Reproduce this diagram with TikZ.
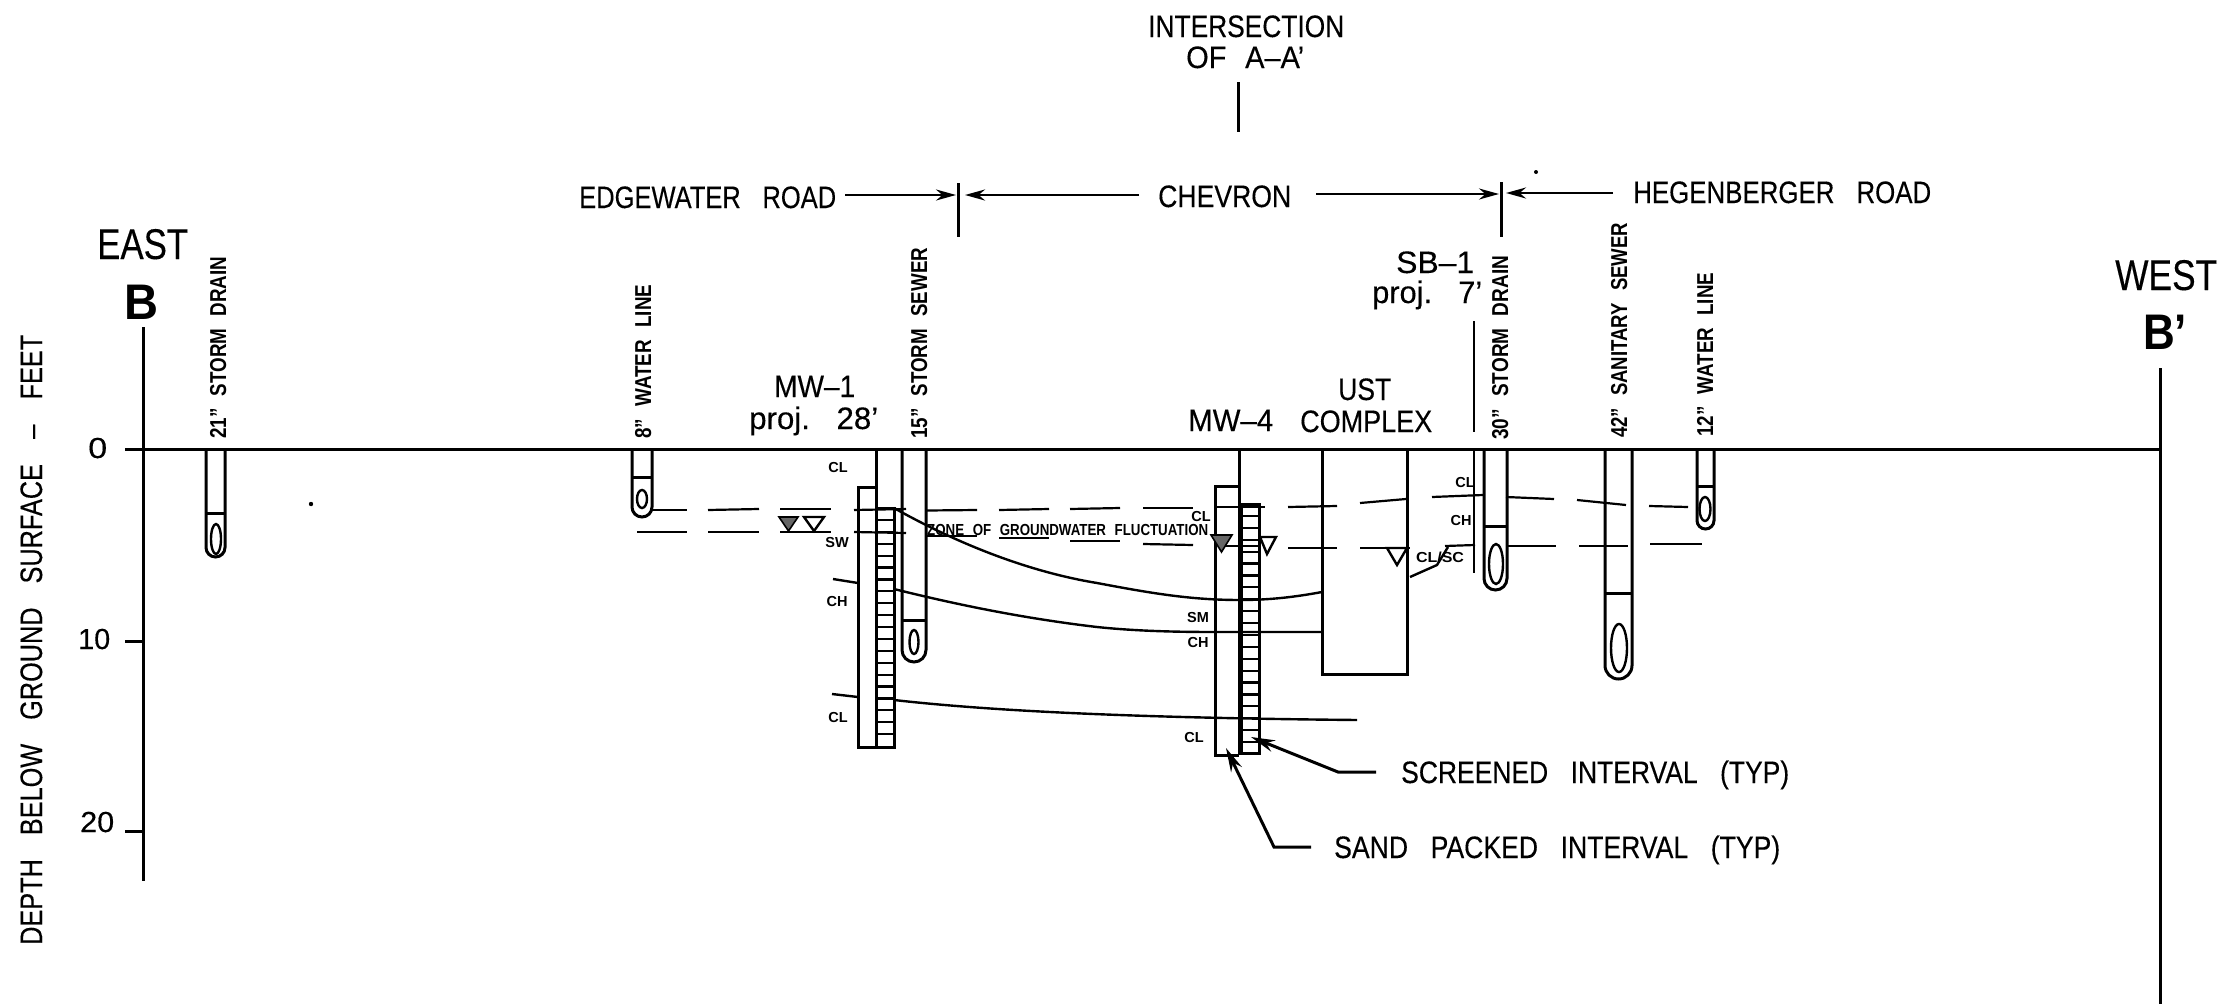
\documentclass[tikz,border=0pt]{standalone}
\usepackage{fontspec}
\usepackage{graphicx}
\setmainfont{Liberation Sans}[FakeBold=0.3,BoldFeatures={FakeBold=0}]
\usetikzlibrary{arrows.meta}
\newcommand{\fitw}[2]{\resizebox{#1pt}{\height}{#2}}
\newcommand{\gp}{\hspace{.85em}}
\newcommand{\gq}{\hspace{.65em}}
\newcommand{\drawpipe}[8]{%
  \draw[wall,rounded corners={(#2-#1)/2*1pt}] (#1,449) -- (#1,#4) -- (#2,#4) -- (#2,449);
  \draw[wall] (#1,#3) -- (#2,#3);
  \draw[thinwall] (#5,#6) ellipse [x radius=#7pt,y radius=#8pt];
}
\tikzset{
  wall/.style={line width=3pt,draw=black},
  thinwall/.style={line width=2.4pt,draw=black},
  rung/.style={line width=2.2pt,draw=black},
  soil/.style={line width=2.4pt,draw=black},
  dashseg/.style={line width=2.2pt,draw=black},
  lab/.style={inner sep=0pt,anchor=base west,font=\fontsize{31}{36}\selectfont},
  pipelab/.style={inner sep=0pt,anchor=base west,rotate=90,font=\fontsize{23}{26}\selectfont\bfseries},
  soillab/.style={inner sep=0pt,anchor=center,font=\fontsize{14.5}{16}\selectfont\bfseries},
  dim/.style={line width=2.6pt,draw=black,-{Stealth[length=20pt,width=11pt]}},
  leader/.style={line width=3pt,draw=black,-{Stealth[length=24pt,width=12pt]}},
  wtopen/.style={line width=2.4pt,draw=black,fill=white},
  wtfill/.style={line width=1.6pt,draw=black,fill=black!60},
}
\begin{document}
\begin{tikzpicture}[x=1pt,y=-1pt]
\useasboundingbox (0,0) rectangle (2220,1004);
% axes and ground
\draw[wall] (143,327) -- (143,881);
\draw[wall] (2160,368) -- (2160,1004);
\draw[line width=3pt] (125,449) -- (2160,449);
\draw[wall] (125,641) -- (143,641);
\draw[wall] (125,831) -- (143,831);
% specks
\fill (311,504) circle (2.2pt);
\fill (1536,172) circle (2pt);
% titles
\node[lab,font=\fontsize{43}{48}\selectfont] (east) at (97,259) {\fitw{91}{EAST}};
\node[lab,font=\fontsize{50}{56}\selectfont\bfseries] (bl) at (124,319) {\fitw{34}{B}};
\node[lab,font=\fontsize{43}{48}\selectfont] (west) at (2115,290) {\fitw{102}{WEST}};
\node[lab,font=\fontsize{50}{56}\selectfont\bfseries] (br) at (2143,349) {\fitw{44}{B'}};
\node[lab,rotate=90] (depth) at (42,945) {\fitw{610}{DEPTH\hspace{.95em}BELOW\hspace{.95em}GROUND\hspace{.95em}SURFACE\hspace{1em}--\hspace{1em}FEET}};
\node[lab,font=\fontsize{29}{32}\selectfont] (t0) at (88,458) {\fitw{19}{0}};
\node[lab,font=\fontsize{29}{32}\selectfont] (t10) at (78,649) {\fitw{32}{10}};
\node[lab,font=\fontsize{29}{32}\selectfont] (t20) at (80,832) {\fitw{34}{20}};
% top labels
\node[lab] (isect) at (1148,37) {\fitw{196}{INTERSECTION}};
\node[lab] (ofaa) at (1186,68) {\fitw{118}{OF\gq A--A'}};
\coordinate (i1) at (1238,82); \coordinate (i2) at (1238,132);
\draw[wall] (i1) -- (i2);
\node[lab] (edge) at (579,208) {\fitw{257}{EDGEWATER\gp ROAD}};
\node[lab] (chev) at (1158,207) {\fitw{133}{CHEVRON}};
\node[lab] (hege) at (1633,203) {\fitw{298}{HEGENBERGER\gp ROAD}};
\coordinate (tk1a) at (958,183); \coordinate (tk1b) at (958,237);
\coordinate (tk2a) at (1501,182); \coordinate (tk2b) at (1501,237);
\draw[wall] (tk1a) -- (tk1b);
\draw[wall] (tk2a) -- (tk2b);
\coordinate (e1) at (845,195); \coordinate (e2) at (956,195);
\coordinate (c1) at (1139,195); \coordinate (c2) at (965,195);
\coordinate (c3) at (1316,194); \coordinate (c4) at (1499,194);
\coordinate (h1) at (1613,193); \coordinate (h2) at (1506,193);
\draw[dim] (e1) -- (e2);
\draw[dim] (c1) -- (c2);
\draw[dim] (c3) -- (c4);
\draw[dim] (h1) -- (h2);
% well labels
\node[lab] (mw1) at (774,397) {\fitw{81}{MW--1}};
\node[lab] (mw1p) at (749,429) {\fitw{129}{proj.\gp 28'}};
\node[lab] (mw4) at (1188,431) {\fitw{85}{MW--4}};
\node[lab] (ust) at (1338,400) {\fitw{53}{UST}};
\node[lab] (cplx) at (1300,432) {\fitw{132}{COMPLEX}};
\node[lab] (sb1) at (1396,273) {\fitw{78}{SB--1}};
\node[lab] (sb1p) at (1372,303) {\fitw{110}{proj.\gp 7'}};
% pipe labels
\node[pipelab] (p21) at (226,439) {\fitw{182}{21"\gq STORM\gq DRAIN}};
\node[pipelab] (p8) at (651,439) {\fitw{154}{8"\gq WATER\gq LINE}};
\node[pipelab] (p15) at (927,439) {\fitw{191}{15"\gq STORM\gq SEWER}};
\node[pipelab] (p30) at (1508,440) {\fitw{184}{30"\gq STORM\gq DRAIN}};
\node[pipelab] (p42) at (1627,438) {\fitw{215}{42"\gq SANITARY\gq SEWER}};
\node[pipelab] (p12) at (1713,437) {\fitw{164}{12"\gq WATER\gq LINE}};
% pipes
\drawpipe{206}{225}{513}{557}{216}{539}{5}{15}
\drawpipe{632}{652}{477}{517}{642}{499}{5}{9}
\drawpipe{902}{926}{620}{662}{914}{642}{4.5}{12}
\drawpipe{1484}{1507}{526}{590}{1496}{564}{7}{20}
\drawpipe{1605}{1632}{593}{679}{1619}{648}{8}{24}
\drawpipe{1697}{1714}{486}{529}{1705}{509}{5.5}{12}
% SB-1
\coordinate (sb1a) at (1474,321); \coordinate (sb1b) at (1474,432);
\coordinate (sb1c) at (1474,449); \coordinate (sb1d) at (1474,573);
\draw[thinwall] (sb1a) -- (sb1b);
\draw[thinwall] (sb1c) -- (sb1d);
% UST
\draw[wall] (1322,449) -- (1322,674) -- (1407,674) -- (1407,449);
% MW-1
\draw[wall] (876,449) -- (876,747);
\draw[wall] (876,487) -- (858,487) -- (858,747) -- (894,747) -- (894,508) -- (876,508);
\foreach \r in {0,...,19} \draw[rung] (876,508+11.9*\r) -- (894,508+11.9*\r);
% MW-4
\draw[wall] (1239,449) -- (1239,755);
\draw[wall] (1239,486) -- (1215,486) -- (1215,755) -- (1239,755);
\draw[wall] (1241,504) -- (1259,504) -- (1259,753) -- (1241,753) -- cycle;
\foreach \r in {1,...,20} \draw[rung] (1241,504+11.9*\r) -- (1259,504+11.9*\r);
% soil lines
\draw[soil] (894,508) .. controls (960,545) and (1030,572) .. (1097,583) .. controls (1150,593) and (1190,600) .. (1240,600) .. controls (1270,600) and (1295,597) .. (1322,592);
\draw[soil] (833,579) -- (858,583);
\draw[soil] (894,589) .. controls (950,603) and (1020,618) .. (1097,627) .. controls (1135,631) and (1175,632) .. (1215,632) -- (1322,632);
\draw[soil] (832,694) -- (858,697);
\draw[soil] (894,700) .. controls (1000,712) and (1150,718) .. (1357,720);
% fluctuation dashes
\foreach \a/\b/\c/\d in {651/510/687/510,708/510/759/509,780/509/831/509,854/510/906/509,927/510.5/977/510,999/510/1049/509,1070/509/1120/508,1143/508/1193/508,1215/507/1265/507,1288/507/1337/506,1360/503/1406/499,1432/497/1483/495,1506/497/1554/499,1577/500/1626/505,1649/506/1688/507,
 637/532/687/532,708/532/759/532,780/532/831/532,854/532/906/533,927/536/977/536,999/538/1049/538,1070/541/1120/541,1143/544/1193/545,1225/546/1260/546,1288/548/1337/548,1360/548/1410/548,1445/546/1475/545,1506/546/1556/546,1579/546/1628/546,1650/544/1702/544}
  \draw[dashseg] (\a,\b) -- (\c,\d);
% water table triangles
\draw[wtfill] (779,517) -- (798,517) -- (788.5,531) -- cycle;
\draw[wtopen] (804,517) -- (824,517) -- (814,531) -- cycle;
\draw[wtfill] (1211,535) -- (1232,535) -- (1221.5,552) -- cycle;
\draw[wtopen] (1260,537) -- (1276,537) -- (1267,554) -- cycle;
\draw[wtopen] (1387,548) -- (1407,548) -- (1397,565) -- cycle;
% CL/SC leader
\coordinate (cs1) at (1410,577); \coordinate (cs2) at (1437,565); \coordinate (cs3) at (1448,547);
\draw[soil] (cs1) -- (cs2) -- (cs3);
% zone label
\node[inner sep=0pt,anchor=base west,font=\fontsize{16}{18}\selectfont\bfseries] (zone) at (927,535) {\fitw{281}{ZONE\gq OF\gq GROUNDWATER\gq FLUCTUATION}};
% soil labels
\node[soillab] (s1) at (838,468) {CL};
\node[soillab] (s2) at (837,543) {SW};
\node[soillab] (s3) at (837,602) {CH};
\node[soillab] (s4) at (838,717) {CL};
\node[soillab] (s5) at (1201,517) {CL};
\node[soillab] (s6) at (1198,618) {SM};
\node[soillab] (s7) at (1198,643) {CH};
\node[soillab] (s8) at (1194,737) {CL};
\node[soillab] (s9) at (1465,483) {CL};
\node[soillab] (s10) at (1461,521) {CH};
\node[soillab] (s11) at (1440,557) {\fitw{48}{CL/SC}};
% interval leaders
\node[lab] (scr) at (1401,783) {\fitw{388}{SCREENED\gp INTERVAL\gp (TYP)}};
\node[lab] (snd) at (1334,858) {\fitw{446}{SAND\gp PACKED\gp INTERVAL\gp (TYP)}};
\coordinate (sc0) at (1376,772); \coordinate (sc1) at (1338,772); \coordinate (sc2) at (1251,737);
\coordinate (sn0) at (1311,847); \coordinate (sn1) at (1274,847); \coordinate (sn2) at (1226,748);
\draw[leader] (sc0) -- (sc1) -- (sc2);
\draw[leader] (sn0) -- (sn1) -- (sn2);
\end{tikzpicture}
\end{document}
